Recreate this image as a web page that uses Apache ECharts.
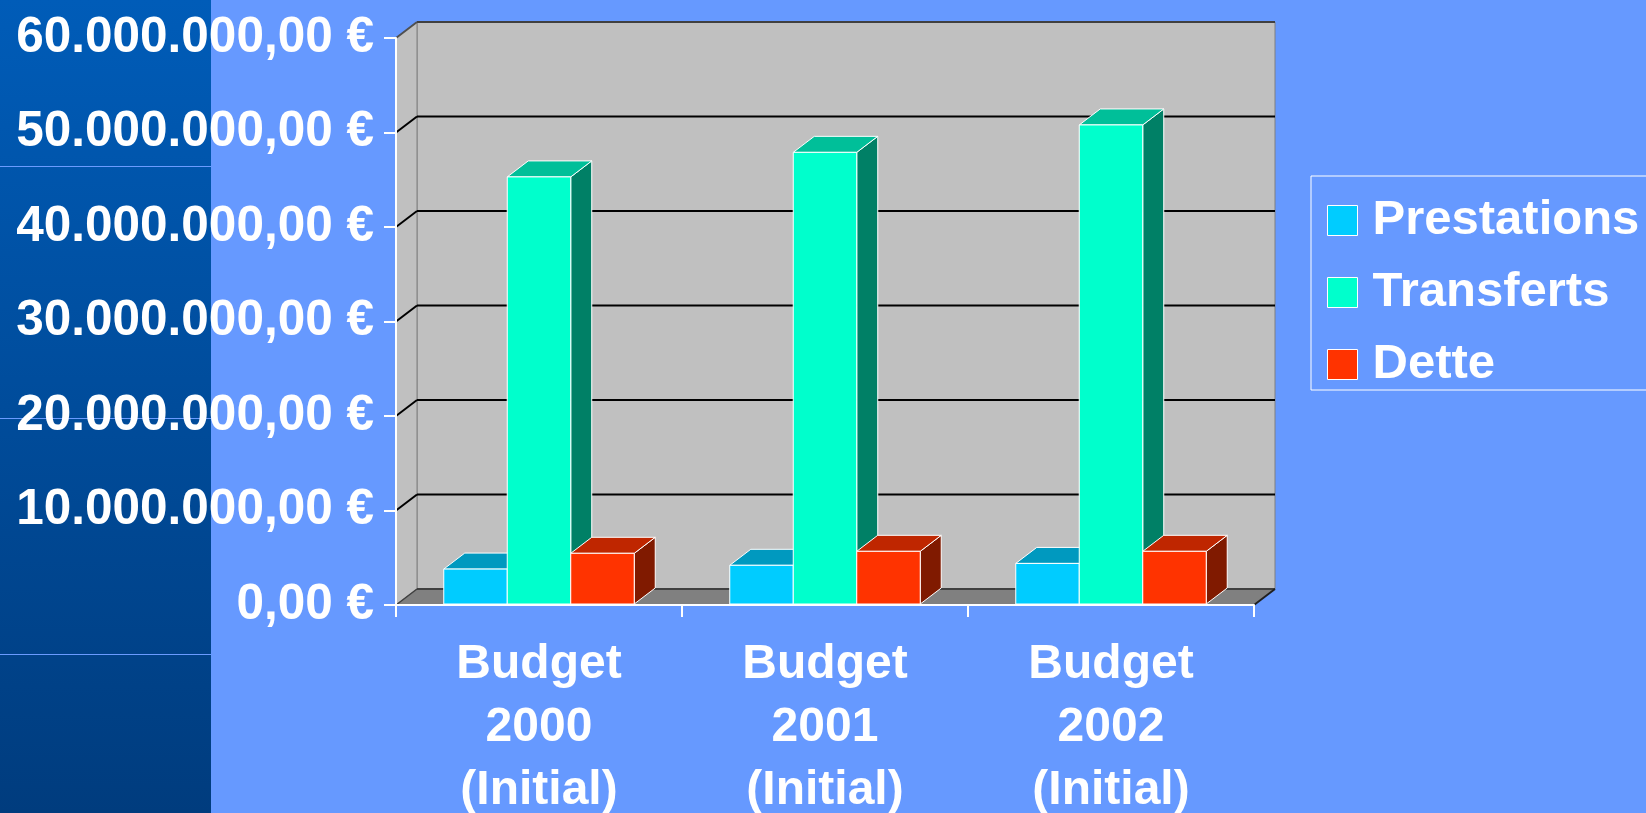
<!DOCTYPE html>
<html>
<head>
<meta charset="utf-8">
<script src="https://cdn.jsdelivr.net/npm/echarts@6/dist/echarts.min.js"></script>
<style>
html,body{margin:0;padding:0;background:#6699FF;}
#chart{width:1646px;height:813px;}
</style>
</head>
<body>
<div id="chart"></div>
<script>
// ---- data ----
const categories = ['Budget\n2000\n(Initial)', 'Budget\n2001\n(Initial)', 'Budget\n2002\n(Initial)'];
const seriesNames = ['Prestations', 'Transferts', 'Dette'];
const prestations = [3800000, 4200000, 4400000];
const transferts = [45300000, 47900000, 50800000];
const dette = [5470000, 5680000, 5680000];
const yTicks = [0, 10000000, 20000000, 30000000, 40000000, 50000000, 60000000];

// ---- styles ----
const frontColors = ['#00CCFF', '#00FFCC', '#FF3300'];
const topColors = ['#0099BF', '#00BF99', '#BF2600'];
const sideColors = ['#006E8C', '#008066', '#801A00'];
const DX = 21, DY = -16;
const BAR_FRAC = 0.222;
const FONT = '"Liberation Sans", Arial, sans-serif';

function euro(v) {
  const s = Math.round(v).toString().replace(/\B(?=(\d{3})+(?!\d))/g, '.');
  return s + ',00 €';
}

function barRenderer(idx) {
  return function (params, api) {
    const cat = api.value(0), val = api.value(1);
    const t = api.coord([cat, val]);
    const b = api.coord([cat, 0]);
    const bw = api.size([1, 0])[0] * BAR_FRAC;
    const x0 = t[0] + (idx - 1.5) * bw;
    const x1 = x0 + bw;
    const yt = t[1], yb = b[1] - 1;
    const stroke = { stroke: '#FFFFFF', lineWidth: 1 };
    return {
      type: 'group',
      children: [
        { type: 'polygon', shape: { points: [[x1, yt], [x1 + DX, yt + DY], [x1 + DX, yb + DY], [x1, yb]] },
          style: Object.assign({ fill: sideColors[idx] }, stroke) },
        { type: 'polygon', shape: { points: [[x0, yt], [x1, yt], [x1 + DX, yt + DY], [x0 + DX, yt + DY]] },
          style: Object.assign({ fill: topColors[idx] }, stroke) },
        { type: 'rect', shape: { x: x0, y: yt, width: bw, height: yb - yt },
          style: Object.assign({ fill: frontColors[idx] }, stroke) }
      ]
    };
  };
}

function wallRenderer(params, api) {
  const cs = params.coordSys;
  const gx = cs.x, gr = cs.x + cs.width;
  const gb = api.coord([0, 0])[1];
  const gt = api.coord([0, yTicks[yTicks.length - 1]])[1];
  const ch = [];
  // back wall
  ch.push({ type: 'rect', shape: { x: gx + DX, y: gt + DY, width: gr - gx, height: gb - gt },
    style: { fill: '#C0C0C0', stroke: '#808080', lineWidth: 1 } });
  // left wall
  ch.push({ type: 'polygon', shape: { points: [[gx, gt], [gx + DX, gt + DY], [gx + DX, gb + DY], [gx, gb]] },
    style: { fill: '#C0C0C0', stroke: '#808080', lineWidth: 1 } });
  // floor
  ch.push({ type: 'polygon', shape: { points: [[gx, gb], [gr, gb], [gr + DX, gb + DY], [gx + DX, gb + DY]] },
    style: { fill: '#808080' } });
  ch.push({ type: 'line', shape: { x1: gx + DX, y1: gb + DY, x2: gr + DX, y2: gb + DY },
    style: { stroke: '#404040', lineWidth: 2 } });
  ch.push({ type: 'line', shape: { x1: gr, y1: gb, x2: gr + DX, y2: gb + DY },
    style: { stroke: '#202020', lineWidth: 2 } });
  ch.push({ type: 'line', shape: { x1: gx, y1: gb, x2: gx + DX, y2: gb + DY },
    style: { stroke: '#404040', lineWidth: 1.5 } });
  // top edge
  ch.push({ type: 'line', shape: { x1: gx + DX, y1: gt + DY, x2: gr + DX, y2: gt + DY },
    style: { stroke: '#404040', lineWidth: 2 } });
  ch.push({ type: 'line', shape: { x1: gx, y1: gt, x2: gx + DX, y2: gt + DY },
    style: { stroke: '#505050', lineWidth: 2 } });
  // gridlines
  for (let i = 1; i < yTicks.length - 1; i++) {
    const y = api.coord([0, yTicks[i]])[1];
    ch.push({ type: 'line', shape: { x1: gx + DX, y1: y + DY, x2: gr + DX, y2: y + DY },
      style: { stroke: '#000000', lineWidth: 2 } });
    ch.push({ type: 'line', shape: { x1: gx, y1: y, x2: gx + DX, y2: y + DY },
      style: { stroke: '#000000', lineWidth: 2 } });
  }
  return { type: 'group', children: ch };
}

const seriesData = [prestations, transferts, dette];

const chart = echarts.init(document.getElementById('chart'), null, { renderer: 'canvas' });
const option = {
  backgroundColor: '#6699FF',
  animation: false,
  graphic: [
    { type: 'rect', z: -10, left: 0, top: 0, shape: { x: 0, y: 0, width: 211, height: 813 },
      style: { fill: new echarts.graphic.LinearGradient(0, 0, 0, 1, [
        { offset: 0, color: '#005CB8' }, { offset: 1, color: '#003C7E' }]) } },
    { type: 'rect', z: -9, left: 0, top: 166, shape: { x: 0, y: 0, width: 211, height: 1 }, style: { fill: '#6A9BFF' } },
    { type: 'rect', z: -9, left: 0, top: 418, shape: { x: 0, y: 0, width: 211, height: 1 }, style: { fill: '#6A9BFF' } },
    { type: 'rect', z: -9, left: 0, top: 654, shape: { x: 0, y: 0, width: 211, height: 1 }, style: { fill: '#6A9BFF' } }
  ],
  grid: { left: 396, right: 392, top: 38, bottom: 208, containLabel: false, outerBoundsMode: 'none' },
  legend: {
    data: seriesNames,
    orient: 'vertical',
    left: 1311, top: 176,
    itemWidth: 30, itemHeight: 30, itemGap: 23,
    padding: [20, 200, 1, 16],
    borderColor: '#FFFFFF', borderWidth: 1,
    icon: 'rect',
    itemStyle: { borderColor: '#FFFFFF', borderWidth: 1 },
    textStyle: { color: '#FFFFFF', fontSize: 49, fontWeight: 'bold', fontFamily: FONT, lineHeight: 48, padding: [0, 0, 0, 10] }
  },
  xAxis: {
    type: 'category',
    data: categories,
    z: 10,
    axisLine: { show: true, lineStyle: { color: '#FFFFFF', width: 2 } },
    axisTick: { show: true, length: 12, lineStyle: { color: '#FFFFFF', width: 2 } },
    axisLabel: { color: '#FFFFFF', fontSize: 48, fontWeight: 'bold', fontFamily: FONT, lineHeight: 63, margin: 28, interval: 0 },
    splitLine: { show: false }
  },
  yAxis: {
    type: 'value',
    min: 0, max: 60000000, interval: 10000000,
    z: 10,
    axisLine: { show: true, lineStyle: { color: '#FFFFFF', width: 2 } },
    axisTick: { show: true, length: 12, lineStyle: { color: '#FFFFFF', width: 2 } },
    axisLabel: { color: '#FFFFFF', fontSize: 49.5, fontWeight: 'bold', fontFamily: FONT, margin: 22, formatter: euro },
    splitLine: { show: false }
  },
  series: [
    { type: 'custom', name: '_walls', z: 1, silent: true, data: [[0, 0]], renderItem: wallRenderer }
  ].concat(seriesNames.map((n, i) => ({
    type: 'custom',
    name: n,
    z: 2,
    itemStyle: { color: frontColors[i] },
    data: seriesData[i].map((v, j) => [j, v]),
    encode: { x: 0, y: 1 },
    renderItem: barRenderer(i)
  })))
};
chart.setOption(option);
</script>
</body>
</html>
